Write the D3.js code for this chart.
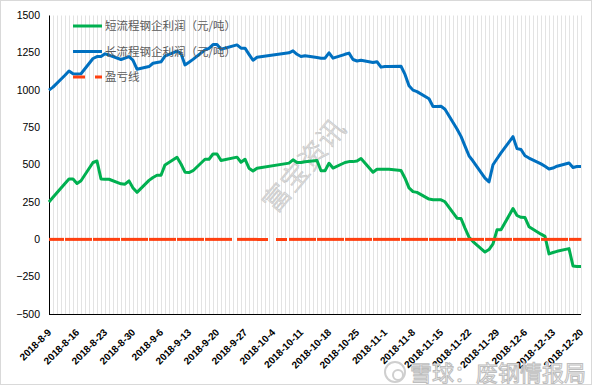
<!DOCTYPE html>
<html lang="zh">
<head>
<meta charset="UTF-8">
<script src="https://cdn.jsdelivr.net/npm/d3@7"></script>
<title>钢企利润</title>
<style>
    body { margin: 0; background: #fff; }
    svg { display: block; }
    .tick-label { font-family: "Liberation Sans", Arial, sans-serif; font-size: 10.5px; fill: #000; }
    .legend text { font-family: "Noto Sans CJK SC", sans-serif; font-size: 11.5px; fill: #595959; }
</style>
</head>
<body>
<svg id="chart"></svg>
<script>
// trading days (weekends, 9-24 and the National Day week are missing; 9-29 / 9-30 were worked)
const tradeDates = [
    "2018-8-9", "2018-8-10", "2018-8-13", "2018-8-14", "2018-8-15", "2018-8-16", "2018-8-17",
    "2018-8-20", "2018-8-21", "2018-8-22", "2018-8-23", "2018-8-24",
    "2018-8-27", "2018-8-28", "2018-8-29", "2018-8-30", "2018-8-31",
    "2018-9-3", "2018-9-4", "2018-9-5", "2018-9-6", "2018-9-7",
    "2018-9-10", "2018-9-11", "2018-9-12", "2018-9-13", "2018-9-14",
    "2018-9-17", "2018-9-18", "2018-9-19", "2018-9-20", "2018-9-21",
    "2018-9-25", "2018-9-26", "2018-9-27", "2018-9-28", "2018-9-29", "2018-9-30",
    "2018-10-8", "2018-10-9", "2018-10-10", "2018-10-11", "2018-10-12",
    "2018-10-15", "2018-10-16", "2018-10-17", "2018-10-18", "2018-10-19",
    "2018-10-22", "2018-10-23", "2018-10-24", "2018-10-25", "2018-10-26",
    "2018-10-29", "2018-10-30", "2018-10-31", "2018-11-1", "2018-11-2",
    "2018-11-5", "2018-11-6", "2018-11-7", "2018-11-8", "2018-11-9",
    "2018-11-12", "2018-11-13", "2018-11-14", "2018-11-15", "2018-11-16",
    "2018-11-19", "2018-11-20", "2018-11-21", "2018-11-22", "2018-11-23",
    "2018-11-26", "2018-11-27", "2018-11-28", "2018-11-29", "2018-11-30",
    "2018-12-3", "2018-12-4", "2018-12-5", "2018-12-6", "2018-12-7",
    "2018-12-10", "2018-12-11", "2018-12-12", "2018-12-13", "2018-12-14",
    "2018-12-17", "2018-12-18", "2018-12-19", "2018-12-20"
];

// 短流程钢企利润（元/吨）
const shortFlowProfit = [
    250, 282, 375, 405, 405, 374, 393,
    515, 525, 405, 403, 403,
    372, 370, 392, 345, 315,
    395, 415, 430, 430, 499,
    550, 505, 450, 448, 460,
    537, 537, 572, 572, 528,
    551, 517, 537, 477, 458, 477,
    511, 533, 515, 515, 520,
    528, 460, 460, 510, 478,
    515, 521, 521, 525, 542,
    450, 470, 470, 470, 470,
    461, 410, 345, 320, 315,
    270, 266, 265, 265, 252,
    142, 140, 75, 15, -15,
    -85, -68, -30, 64, 64,
    207, 160, 148, 146, 85,
    35, 20, -97, -88, -80,
    -62, -178, -182, -182
];

// 长流程钢企利润（元/吨）
const longFlowProfit = [
    1000, 1020, 1100, 1128, 1110, 1108, 1110,
    1212, 1225, 1225, 1243, 1235,
    1205, 1215, 1225, 1200, 1140,
    1158, 1180, 1185, 1190, 1228,
    1262, 1245, 1169, 1187, 1206,
    1270, 1280, 1305, 1305, 1274,
    1303, 1281, 1281, 1240, 1200, 1220,
    1250, 1263, 1240, 1225, 1230,
    1218, 1214, 1214, 1250, 1214,
    1240, 1248, 1205, 1195, 1200,
    1185, 1190, 1154, 1158, 1158,
    1160, 1105, 1030, 1000, 990,
    942, 890, 890, 892, 872,
    740, 690, 625, 560, 525,
    410, 385, 500, 540, 580,
    688, 608, 602, 560, 545,
    506, 490, 472, 478, 490,
    512, 482, 488, 488
];

// 盈亏线
const breakEven = tradeDates.map(() => 0);

const yTicks = [1500, 1250, 1000, 750, 500, 250, 0, -250, -500];
const xTickDates = [
    "2018-8-9", "2018-8-16", "2018-8-23", "2018-8-30", "2018-9-6", "2018-9-13", "2018-9-20",
    "2018-9-27", "2018-10-4", "2018-10-11", "2018-10-18", "2018-10-25", "2018-11-1", "2018-11-8",
    "2018-11-15", "2018-11-22", "2018-11-29", "2018-12-6", "2018-12-13", "2018-12-20"
];
const seriesNames = ["短流程钢企利润（元/吨）", "长流程钢企利润（元/吨）", "盈亏线"];
const colors = ["#00b050", "#0070c0", "#ff4010"];

const width = 597, height = 386;
const svg = d3.select("#chart").attr("width", width).attr("height", height);

const parseDate = d3.utcParse("%Y-%m-%d");
const dates = tradeDates.map(parseDate);
const first = parseDate("2018-8-9"), last = parseDate("2018-12-20");

const x = d3.scaleUtc().domain([first, last]).range([49, 581]);
const y = d3.scaleLinear().domain([-500, 1500]).range([314, 15.5]);

// outer frame
svg.append("rect")
    .attr("x", 0.5).attr("y", 0.5)
    .attr("width", 591).attr("height", 384)
    .attr("fill", "#fff").attr("stroke", "#d9d9d9");

// daily vertical grid
const allDays = d3.utcDay.range(first, d3.utcDay.offset(last, 1));
svg.append("g")
    .selectAll("line")
    .data(allDays)
    .enter()
    .append("line")
    .attr("x1", d => Math.round(x(d)) + 0.5)
    .attr("x2", d => Math.round(x(d)) + 0.5)
    .attr("y1", y(1500))
    .attr("y2", y(-500))
    .attr("stroke", "#e3e3e3")
    .attr("stroke-width", 1);

// watermark
svg.append("text")
    .attr("transform", "translate(306,167) rotate(-50)")
    .attr("text-anchor", "middle")
    .attr("dominant-baseline", "middle")
    .style("font-family", "Noto Sans CJK SC")
    .style("font-size", "27px")
    .style("font-weight", 300)
    .style("letter-spacing", "1px")
    .attr("fill", "#f3f3f3")
    .attr("stroke", "#cacaca")
    .attr("stroke-width", 0.8)
    .text("富宝资讯");

// axes
svg.append("line")
    .attr("x1", 49.5).attr("x2", 49.5)
    .attr("y1", y(1500)).attr("y2", y(-500) + 0.5)
    .attr("stroke", "#000");
svg.append("line")
    .attr("x1", 49).attr("x2", 581)
    .attr("y1", y(-500) + 0.5).attr("y2", y(-500) + 0.5)
    .attr("stroke", "#000");

svg.append("g")
    .selectAll("text")
    .data(yTicks)
    .enter()
    .append("text")
    .attr("class", "tick-label")
    .attr("x", 40)
    .attr("y", d => y(d))
    .attr("dy", "0.35em")
    .attr("text-anchor", "end")
    .text(d => d3.format("")(d));

const fmt = d3.utcFormat("%Y-%-m-%-d");
svg.append("g")
    .selectAll("text")
    .data(xTickDates.map(parseDate))
    .enter()
    .append("text")
    .attr("class", "tick-label")
    .attr("transform", d => `translate(${x(d) + 3},${333}) rotate(-45)`)
    .attr("text-anchor", "end")
    .style("font-weight", "bold")
    .style("font-size", "10px")
    .text(d => fmt(d));

// series lines
const line = d3.line()
    .x((d, i) => x(dates[i]))
    .y(d => y(d));

[shortFlowProfit, longFlowProfit].forEach((s, k) => {
    svg.append("path")
        .attr("d", line(s))
        .attr("fill", "none")
        .attr("stroke", colors[k])
        .attr("stroke-width", 3)
        .attr("stroke-linejoin", "round");
});

// break-even line: each segment dashed on its own, so the gaps sit at the weekend jumps
svg.append("g")
    .selectAll("line")
    .data(d3.pairs(d3.range(dates.length)))
    .enter()
    .append("line")
    .attr("x1", p => x(dates[p[0]]))
    .attr("x2", p => x(dates[p[1]]) + 0.3)
    .attr("y1", p => y(breakEven[p[0]]))
    .attr("y2", p => y(breakEven[p[1]]))
    .attr("stroke", colors[2])
    .attr("stroke-width", 3)
    .attr("stroke-dasharray", "11,8");

// legend
const legend = svg.append("g").attr("class", "legend");
seriesNames.forEach((name, k) => {
    const ly = 26 + k * 25.5;
    legend.append("line")
        .attr("x1", 73).attr("x2", 102)
        .attr("y1", ly).attr("y2", ly)
        .attr("stroke", colors[k])
        .attr("stroke-width", 3)
        .attr("stroke-dasharray", k === 2 ? "12,10" : null);
    legend.append("text")
        .attr("x", 105)
        .attr("y", ly)
        .attr("dy", "0.36em")
        .text(name);
});

// bottom-right watermark
const wm = svg.append("g").attr("transform", "translate(395,372)");
wm.append("circle").attr("r", 10).attr("fill", "none").attr("stroke", "#cfcfcf").attr("stroke-width", 2);
wm.append("circle").attr("cx", 3).attr("cy", 3).attr("r", 5).attr("fill", "none").attr("stroke", "#cfcfcf").attr("stroke-width", 2);
wm.append("text")
    .attr("x", 15)
    .attr("y", 9)
    .style("font-family", "Noto Sans CJK SC")
    .style("font-size", "22px")
    .attr("fill", "#fff")
    .attr("stroke", "#bdbdbd")
    .attr("stroke-width", 1)
    .text("雪球：废钢情报局");
</script>
</body>
</html>
